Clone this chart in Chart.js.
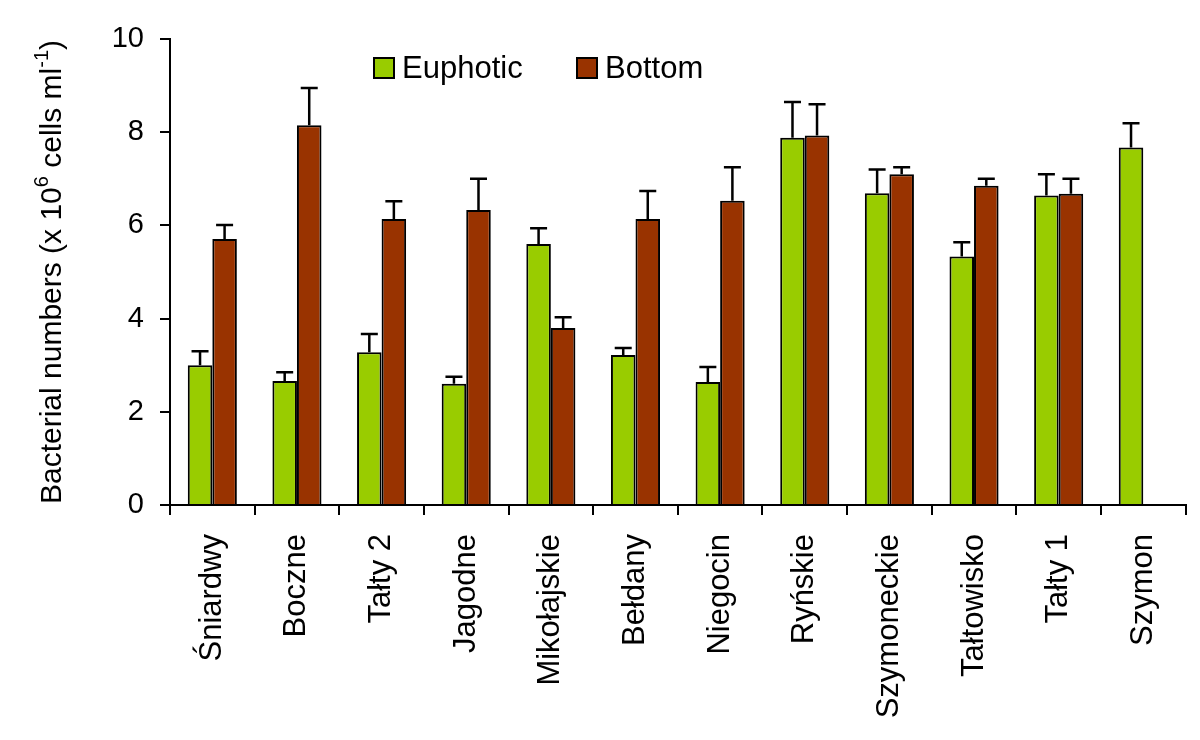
<!DOCTYPE html>
<html>
<head>
<meta charset="utf-8">
<script src="https://cdn.jsdelivr.net/npm/chart.js@4.4.1/dist/chart.umd.min.js"></script>
<style>
  body { margin: 0; background: #fff; }
  #wrap { width: 1200px; height: 740px; }
</style>
</head>
<body>
<div id="wrap"><canvas id="bactChart" width="1200" height="740"></canvas></div>
<script>
const lakes = ['Śniardwy', 'Boczne', 'Tałty 2', 'Jagodne', 'Mikołajskie', 'Bełdany',
  'Niegocin', 'Ryńskie', 'Szymoneckie', 'Tałtowisko', 'Tałty 1', 'Szymon'];

const euphotic = [3.0, 2.66, 3.28, 2.6, 5.6, 3.22, 2.64, 7.88, 6.69, 5.33, 6.64, 7.67];
const euphoticErr = [0.3, 0.19, 0.39, 0.15, 0.34, 0.15, 0.32, 0.77, 0.51, 0.31, 0.46, 0.52];

const bottom = [5.71, 8.15, 6.14, 6.33, 3.8, 6.14, 6.53, 7.93, 7.1, 6.85, 6.68, null];
const bottomErr = [0.3, 0.8, 0.38, 0.67, 0.23, 0.6, 0.72, 0.67, 0.15, 0.15, 0.32, null];

const yTicks = [0, 2, 4, 6, 8, 10];

const FONT = '"Liberation Sans", Arial, sans-serif';

// error bars (upper side only, like the original figure)
const errorBars = {
  id: 'errorBars',
  afterDatasetsDraw(chart) {
    const ctx = chart.ctx;
    const y = chart.scales.y;
    const errs = [euphoticErr, bottomErr];
    ctx.save();
    ctx.strokeStyle = '#000';
    ctx.lineWidth = 2.5;
    chart.data.datasets.forEach((ds, i) => {
      const meta = chart.getDatasetMeta(i);
      meta.data.forEach((bar, j) => {
        const v = ds.data[j];
        const e = errs[i][j];
        if (v == null || e == null) return;
        const yTop = y.getPixelForValue(v + e);
        ctx.beginPath();
        ctx.moveTo(bar.x, bar.y);
        ctx.lineTo(bar.x, yTop);
        ctx.moveTo(bar.x - 8.5, yTop);
        ctx.lineTo(bar.x + 8.5, yTop);
        ctx.stroke();
      });
    });
    ctx.restore();
  }
};

// legend inside the plot + y axis title with superscripts
const extras = {
  id: 'extras',
  afterDraw(chart) {
    const ctx = chart.ctx;
    ctx.save();

    const items = [
      { x: 374, label: chart.data.datasets[0].label, color: chart.data.datasets[0].backgroundColor },
      { x: 577, label: chart.data.datasets[1].label, color: chart.data.datasets[1].backgroundColor }
    ];
    ctx.font = '31px ' + FONT;
    ctx.textBaseline = 'middle';
    ctx.textAlign = 'left';
    items.forEach(it => {
      ctx.fillStyle = it.color;
      ctx.fillRect(it.x, 58, 20, 20);
      ctx.strokeStyle = '#000';
      ctx.lineWidth = 2;
      ctx.strokeRect(it.x, 58, 20, 20);
      ctx.fillStyle = '#000';
      ctx.fillText(it.label, it.x + 28, 69);
    });

    const parts = [
      { t: 'Bacterial numbers (x 10', big: true },
      { t: '6', big: false },
      { t: ' cells ml', big: true },
      { t: '-1', big: false },
      { t: ')', big: true }
    ];
    const bigF = '30px ' + FONT, smallF = '20px ' + FONT;
    let total = 0;
    parts.forEach(p => { ctx.font = p.big ? bigF : smallF; p.w = ctx.measureText(p.t).width; total += p.w; });
    const cy = (chart.chartArea.top + chart.chartArea.bottom) / 2;
    ctx.translate(50, cy);
    ctx.rotate(-Math.PI / 2);
    ctx.textAlign = 'left';
    ctx.textBaseline = 'alphabetic';
    ctx.fillStyle = '#000';
    let x = -total / 2;
    parts.forEach(p => {
      ctx.font = p.big ? bigF : smallF;
      ctx.fillText(p.t, x, p.big ? 11 : -2);
      x += p.w;
    });
    ctx.restore();
  }
};

new Chart(document.getElementById('bactChart').getContext('2d'), {
  type: 'bar',
  data: {
    labels: lakes,
    datasets: [
      {
        label: 'Euphotic',
        data: euphotic,
        backgroundColor: '#99cc00',
        borderColor: '#000',
        borderWidth: 2
      },
      {
        label: 'Bottom',
        data: bottom,
        backgroundColor: '#993300',
        borderColor: '#000',
        borderWidth: 2
      }
    ]
  },
  options: {
    responsive: false,
    animation: false,
    categoryPercentage: 0.58,
    barPercentage: 1,
    layout: { padding: { top: 39, right: 12, left: 0, bottom: 0 } },
    plugins: {
      legend: { display: false },
      tooltip: { enabled: false }
    },
    scales: {
      x: {
        grid: { display: true, drawOnChartArea: false, offset: true, color: '#000', lineWidth: 2, tickLength: 10 },
        border: { color: '#000', width: 2 },
        ticks: {
          color: '#000',
          font: { family: FONT, size: 31 },
          maxRotation: 90,
          minRotation: 90,
          padding: 19
        },
        afterFit(scale) { scale.height = 740 - 505; }
      },
      y: {
        min: 0,
        max: 10,
        afterBuildTicks(scale) { scale.ticks = yTicks.map(v => ({ value: v })); },
        grid: { display: true, drawOnChartArea: false, color: '#000', lineWidth: 2, tickLength: 10 },
        border: { color: '#000', width: 2 },
        ticks: {
          color: '#000',
          font: { family: FONT, size: 29 },
          padding: 16
        },
        afterFit(scale) { scale.width = 170; }
      }
    }
  },
  plugins: [errorBars, extras]
});
</script>
</body>
</html>
